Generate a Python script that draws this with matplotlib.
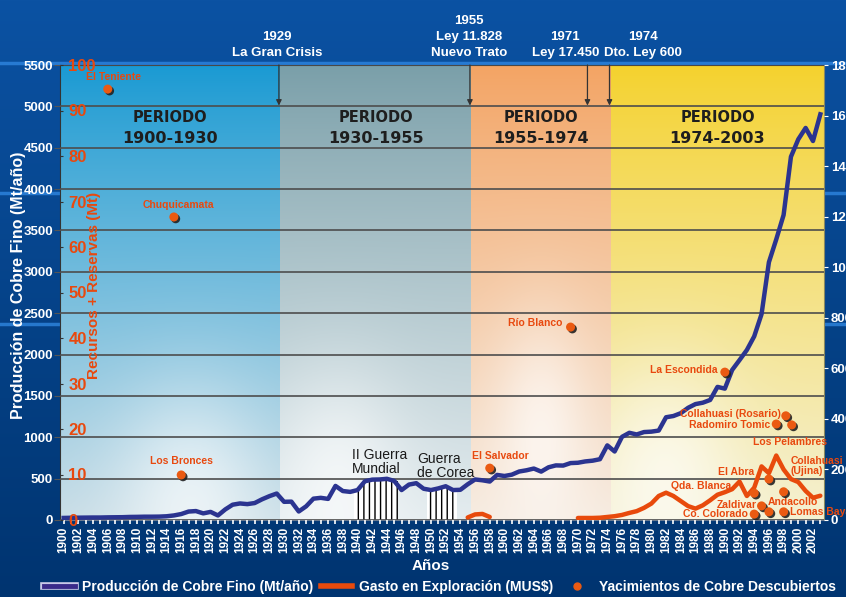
import numpy as np
import matplotlib
matplotlib.use('Agg')
import matplotlib.pyplot as plt
import matplotlib.patheffects as pe
import matplotlib.transforms as mtransforms
from matplotlib.lines import Line2D
from matplotlib.colors import to_rgb

plt.rcParams['font.family'] = ['Liberation Sans', 'DejaVu Sans']
plt.rcParams['font.weight'] = 'bold'
plt.rcParams['axes.labelweight'] = 'bold'

# ---- datos ----
anios = np.arange(1900, 2004)
produccion = [25, 27, 28, 29, 30, 30, 32, 33, 34, 37,
              38, 40, 40, 41, 45, 55, 72, 102, 108, 80,
              98, 55, 128, 185, 200, 192, 205, 250, 288, 320,
              220, 222, 103, 165, 258, 268, 255, 412, 350, 340,
              362, 468, 488, 490, 498, 472, 362, 428, 445, 378,
              362, 382, 408, 362, 365, 432, 490, 480, 465, 545,
              532, 548, 586, 601, 622, 585, 637, 660, 658, 688,
              692, 708, 717, 735, 902, 828, 1005, 1054, 1034, 1063,
              1068, 1081, 1242, 1257, 1291, 1356, 1401, 1418, 1451, 1609,
              1588, 1814, 1933, 2055, 2220, 2489, 3116, 3392, 3687, 4391,
              4602, 4739, 4581, 4904]

anios_gasto = np.arange(1955, 2004)
nan = np.nan
gasto = [10, 22, 24, 12,
         nan, nan, nan, nan, nan, nan, nan, nan, nan, nan, nan,
         8, 8, 8, 9, 12, 15, 20, 28, 35, 48,
         65, 95, 108, 95, 75, 55, 45, 58, 78, 100,
         110, 122, 152, 95, 128, 212, 185, 255, 200, 162,
         150, 115, 88, 96]

yac_nombres = ['El Teniente', 'Chuquicamata', 'Los Bronces', 'El Salvador', 'Río Blanco',
               'La Escondida', 'Collahuasi (Rosario)', 'Radomiro Tomic', 'Los Pelambres',
               'El Abra', 'Qda. Blanca', 'Collahuasi\n(Ujina)', 'Zaldivar', 'Andacollo',
               'Co. Colorado', 'Lomas Bayas']
yac_anios = [1906, 1915, 1916, 1958, 1969, 1990, 1998.3, 1997, 1999.1,
             1996, 1994, 1998, 1995, 1996, 1994, 1998]
yac_mt = [94.7, 66.6, 9.9, 11.4, 42.4, 32.5, 22.9, 21.1, 20.9,
          9.0, 5.9, 6.2, 3.1, 1.8, 1.3, 1.8]

periodos = ['1900-1930', '1930-1955', '1955-1974', '1974-2003']
hitos_anio = [1929, 1955, 1971, 1974]
hitos_texto = ['1929\nLa Gran Crisis', '1955\nLey 11.828\nNuevo Trato',
               '1971\nLey 17.450', '1974\nDto. Ley 600']
guerras = ['II Guerra\nMundial', 'Guerra\nde Corea']
guerras_anios = [np.arange(1940, 1946), np.arange(1950, 1954)]

# ---- layout ----
bordes = [1899.5, 1929.5, 1955.5, 1974.5, 2003.5]
colores_periodo = [('#1a9ad3', '#c9dde6', 0.59, 0.96),
                   ('#7a9fa9', '#e4ecef', 0.30, 0.92),
                   ('#f3a464', '#f6ebe0', 0.50, 0.80),
                   ('#f4d22e', '#f4f0d2', 0.25, 0.90)]
hitos_xtexto = [1929.0, 1955.2, 1968.3, 1978.9]
# desplazamiento de etiquetas (px) y alineacion
yac_off = [(6, 12, 'center'), (5, 12, 'center'), (0, 14, 'center'), (11, 12, 'center'),
           (-8, 4, 'right'), (-7, 2, 'right'), (-5, 2, 'right'), (-6, -1, 'right'),
           (-2, -17, 'center'), (-15, 7, 'right'), (-23, 7, 'right'), (7, 26, 'left'),
           (-5, 1, 'right'), (-1, 10, 'left'), (-6, 0, 'right'), (6, 0, 'left')]

AZUL = '#2b3490'
NARANJA = '#e84a0c'
TXT_NAR = '#e8490f'


def degradado(top, bottom, cx, cy, fuerza=0.65):
    h, w = 200, 120
    t = np.linspace(0, 1, h)[:, None, None] ** 0.9
    c = np.array(to_rgb(top)) * (1 - t) + np.array(to_rgb(bottom)) * t
    yy, xx = np.mgrid[0:1:h * 1j, 0:1:w * 1j]
    g = fuerza * np.exp(-((xx - cx) ** 2 / 0.12 + (yy - cy) ** 2 / 0.06))
    return c * (1 - g[..., None]) + g[..., None]


fig = plt.figure(figsize=(8.46, 5.97), dpi=100)

# fondo azul de la lamina
bg = fig.add_axes([0, 0, 1, 1], zorder=-10)
grad = np.linspace(0, 1, 256)[:, None, None]
fondo = np.array(to_rgb('#0b52a3')) * (1 - grad) + np.array(to_rgb('#003470')) * grad
bg.imshow(fondo, aspect='auto', extent=(0, 1, 0, 1), origin='upper')
for yl in [1 - 63 / 597, 1 - 193 / 597, 1 - 324 / 597]:
    bg.plot([0, 1], [yl, yl], color='#2f86e0', lw=2.5, alpha=0.8)
bg.set_xlim(0, 1)
bg.set_ylim(0, 1)
bg.axis('off')

ax = fig.add_axes([60 / 846, 1 - 520 / 597, 764 / 846, 455 / 597])
ax2 = ax.twinx()
ax3 = ax.twinx()

# fondos de los periodos
for i in range(4):
    top, bot, cx, cy = colores_periodo[i]
    ax.imshow(degradado(top, bot, cx, cy), aspect='auto', origin='upper',
              extent=(bordes[i], bordes[i + 1], 0, 5500), zorder=0)
    ax.text((bordes[i] + bordes[i + 1]) / 2, 4870, 'PERIODO', ha='center', va='center',
            family='DejaVu Sans', fontsize=10.5, fontweight='bold', color='#1e1e1e', zorder=4)
    ax.text((bordes[i] + bordes[i + 1]) / 2, 4610, periodos[i], ha='center', va='center',
            family='DejaVu Sans', fontsize=11.5, fontweight='bold', color='#1e1e1e', zorder=4)

ax.set_xlim(1899.5, 2003.5)
ax.set_ylim(0, 5500)
ax.set_yticks(np.arange(0, 5501, 500))
ax.grid(axis='y', color='#4d4d4d', lw=1.2, zorder=1)
ax.set_axisbelow(False)

# guerras
plt.rcParams['hatch.linewidth'] = 1.0
for nombre, ga, xt, yt in zip(guerras, guerras_anios, [1939.25, 1948.1], [870, 820]):
    ax.bar(ga, [produccion[a - 1900] for a in ga], width=1, color='white',
           edgecolor='black', hatch='|||', lw=0, zorder=2)
    ax.text(xt, yt, nombre, ha='left', va='top', family='Liberation Sans',
            fontweight='normal', fontsize=10, color='#1a1a1a', zorder=4, linespacing=1.0)

ax.plot(anios, produccion, color=AZUL, lw=3.2, zorder=3, solid_joinstyle='round')

# flechas de hitos
for a in hitos_anio:
    ax.annotate('', xy=(a + 0.3, 5010), xytext=(a + 0.3, 5500),
                arrowprops=dict(arrowstyle='-|>', color='#333333', lw=0.9,
                                mutation_scale=8, shrinkA=0, shrinkB=0), zorder=5)
trans = mtransforms.blended_transform_factory(ax.transData, ax.transAxes)
for xt, txt in zip(hitos_xtexto, hitos_texto):
    ax.text(xt, 1.014, txt, transform=trans, ha='center', va='bottom', color='white',
            fontsize=9.5, linespacing=1.4, clip_on=False)

# ejes
ax.set_xticks(np.arange(1900, 2003, 2))
ax.set_xticks(np.arange(1900, 2004, 1), minor=True)
ax.tick_params(axis='x', which='both', colors='white', length=3, width=1.2,
               labelsize=8.5, labelrotation=90, pad=2)
ax.tick_params(axis='y', colors='#555555', length=4, labelcolor='white', labelsize=9.5, pad=1)
for lb in ax.get_xticklabels() + ax.get_yticklabels():
    lb.set_fontweight('bold')
ax.set_ylabel('Producción de Cobre Fino (Mt/año)', color='white', fontsize=11.5)
ax.yaxis.set_label_coords(-0.045, 0.516)
ax.set_xlabel('Años', color='white', fontsize=11, labelpad=-1)
ax.xaxis.set_label_coords(0.485, -0.085)
for s in ['top', 'left']:
    ax.spines[s].set_color('#333333')
ax.spines['bottom'].set_color('#6a7a90')
ax.spines['right'].set_color('#8a8a60')

# gasto en exploracion
ax2.plot(anios_gasto, gasto, color=NARANJA, lw=3.2, solid_capstyle='round', zorder=3)
ax2.set_ylim(0, 1800)
ax2.set_yticks(np.arange(0, 1801, 200))
ax2.tick_params(axis='y', colors='white', length=3, labelsize=9.5, pad=2)
for s in ax2.spines.values():
    s.set_visible(False)

# yacimientos
ax3.set_ylim(0, 100)
ax3.set_xlim(1899.5, 2003.5)
ax3.plot(yac_anios, yac_mt, 'o', color='#ea5a12', ms=6.5, mec='none', ls='none', zorder=6,
         path_effects=[pe.SimplePatchShadow(offset=(1.3, -1.3), shadow_rgbFace='#222222', alpha=0.9),
                       pe.Normal()])
for nom, xa, ym, (dx, dy, ha) in zip(yac_nombres, yac_anios, yac_mt, yac_off):
    ax3.annotate(nom, (xa, ym), xytext=(dx, dy), textcoords='offset pixels', ha=ha,
                 va='center', color=TXT_NAR, fontsize=7.5, linespacing=1.0,
                 annotation_clip=False, clip_on=False)
ax3.yaxis.set_ticks_position('left')
ax3.yaxis.set_label_position('left')
ax3.set_yticks(np.arange(0, 101, 10))
ax3.tick_params(axis='y', direction='in', length=2.5, color='#333333',
                labelcolor=TXT_NAR, labelsize=12, pad=-6)
for lb in ax3.get_yticklabels():
    lb.set_horizontalalignment('left')
ax3.set_ylabel('Recursos + Reservas (Mt)', color=TXT_NAR, fontsize=11)
ax3.yaxis.set_label_coords(0.054, 0.516)
for s in ax3.spines.values():
    s.set_visible(False)

# leyenda
h1 = Line2D([], [], color='#3a2a8a', lw=3.5,
            path_effects=[pe.Stroke(linewidth=5.5, foreground='#c8c8e8'), pe.Normal()])
h2 = Line2D([], [], color=NARANJA, lw=4)
h3 = Line2D([], [], marker='o', color='#ea5a12', ls='none', ms=5)
leg = fig.legend([h1, h2, h3], ['Producción de Cobre Fino (Mt/año)', 'Gasto en Exploración (MUS$)',
                                'Yacimientos de Cobre Descubiertos'],
                 loc='center', bbox_to_anchor=(0.52, 0.017), ncol=3, frameon=False,
                 fontsize=10, handlelength=2.2, columnspacing=0.6, handletextpad=0.5,
                 borderpad=0.2)
for t in leg.get_texts():
    t.set_color('white')

fig.savefig('out.png', dpi=100, facecolor=fig.get_facecolor())
